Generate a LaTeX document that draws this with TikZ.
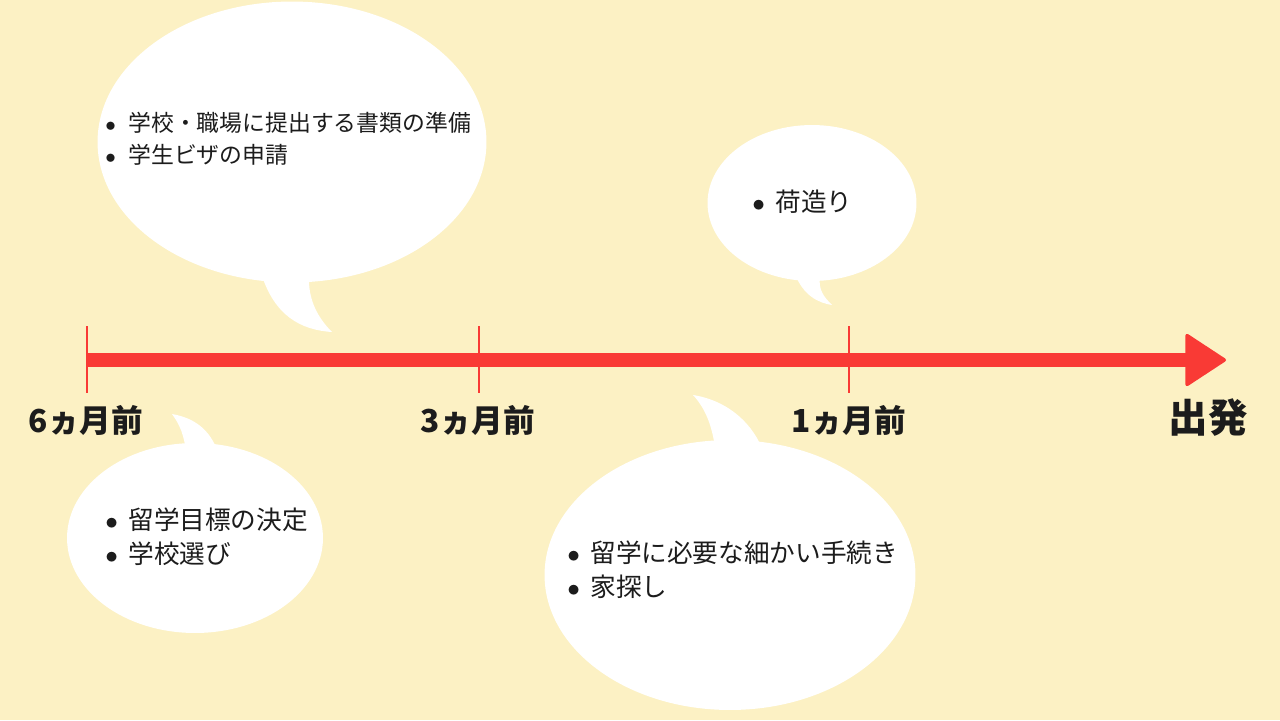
\documentclass[tikz,border=0pt]{standalone}
\usepackage{fontspec}
\setmainfont{Noto Sans CJK JP}
\usetikzlibrary{positioning,arrows.meta,shapes.geometric}

\definecolor{paper}{HTML}{FCF1C4}
\definecolor{tlred}{HTML}{F93A35}
\definecolor{ink}{HTML}{1C1C1C}
\newcommand{\itm}{\makebox[0.46cm][l]{$\bullet$}}

\begin{document}
\begin{tikzpicture}[
  x=0.02cm, y=-0.02cm,
  bubble/.style={ellipse, fill=white, inner sep=0pt},
  tail/.style={fill=white},
  note/.style={anchor=west, inner sep=0pt, align=left, text=ink,
               font=\fontsize{14.6}{19.5}\selectfont},
  when/.style={text=ink, font=\bfseries\fontsize{18}{20}\selectfont},
  tick/.style={draw=tlred, line width=1.4pt},
  timeline/.style={draw=tlred, line width=0.28cm,
                   -{Triangle[length=24pt, width=31pt, line width=2pt, round]}}
]
\fill[paper] (0,0) rectangle (1280,720);
\useasboundingbox (0,0) rectangle (1280,720);

% speech bubbles
\node[bubble, minimum width=7.78cm, minimum height=5.62cm] (b1) at (292,142) {};
\node[bubble, minimum width=4.18cm, minimum height=3.12cm] (b2) at (812,203) {};
\node[bubble, minimum width=5.12cm, minimum height=3.8cm]  (b3) at (195,538) {};
\node[bubble, minimum width=7.42cm, minimum height=5.4cm]  (b4) at (730,575) {};

\fill[tail] (262,276) .. controls (275,315) and (300,330) .. (332,332)
            .. controls (318,318) and (308,300) .. (309,276) -- cycle;
\fill[tail] (795,274) .. controls (803,295) and (818,303) .. (832,305)
            .. controls (824,297) and (818,290) .. (820,276) -- cycle;
\fill[tail] (172,414) .. controls (195,418) and (210,430) .. (218,452)
            -- (186,452) .. controls (184,435) and (180,425) .. (172,414);
\fill[tail] (693,395) .. controls (725,400) and (750,420) .. (762,448)
            -- (715,448) .. controls (712,425) and (705,408) .. (693,395);

\node[note, font=\fontsize{13}{18.5}\selectfont] (n1) at (105,139)
  {\itm 学校・職場に提出する書類の準備\\\itm 学生ビザの申請};
\node[note] (n2) at (752,202) {\itm 荷造り};
\node[note] (n3) at (105,537) {\itm 留学目標の決定\\\itm 学校選び};
\node[note] (n4) at (567,570) {\itm 留学に必要な細かい手続き\\\itm 家探し};

% timeline
\coordinate (t6) at (87,360);
\coordinate (t3) at (479,360);
\coordinate (t1) at (849,360);
\coordinate (go) at (1226,360);

\draw[timeline] (t6) -- (go);
\foreach \t in {t6,t3,t1}
  \draw[tick] (\t) ++(0,-34) -- ++(0,67);

\node[when] (l6) at (86,420) {6ヵ月前};
\node[when] (l3) at (478,420) {3ヵ月前};
\node[when] (l1) at (849,420) {1ヵ月前};
\node[when, font=\bfseries\fontsize{22.5}{24}\selectfont] (lgo) at (1208,418) {出発};
\end{tikzpicture}
\end{document}
